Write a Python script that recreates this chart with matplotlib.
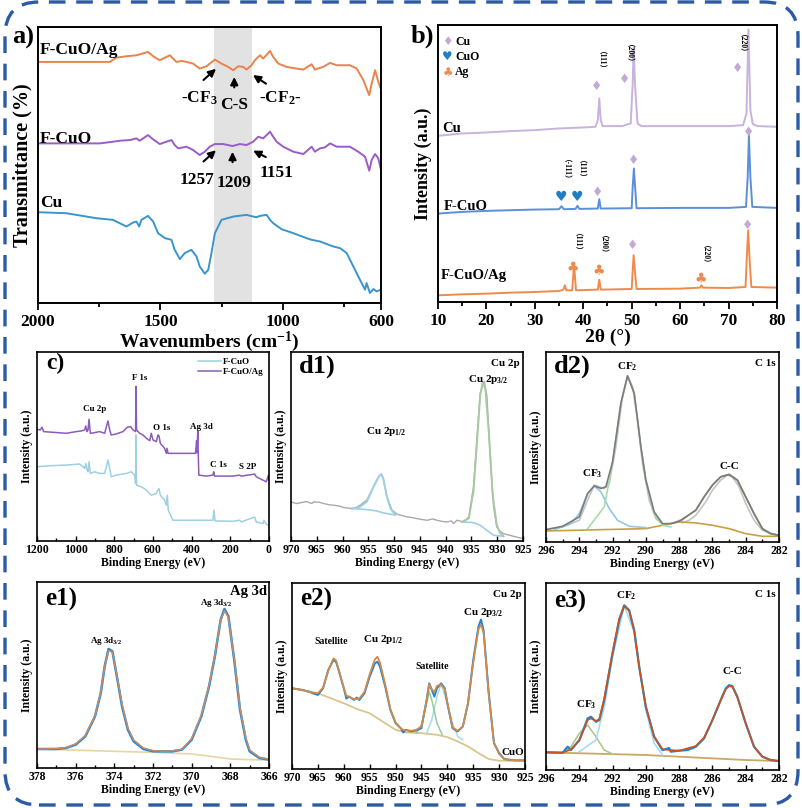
import matplotlib
matplotlib.use('Agg')
import matplotlib.pyplot as plt
from matplotlib.patches import FancyBboxPatch
from matplotlib.transforms import IdentityTransform
from matplotlib.ticker import MultipleLocator, FixedLocator

plt.rcParams['font.family'] = ['Liberation Serif', 'DejaVu Sans']
plt.rcParams['font.weight'] = 'bold'
plt.rcParams['axes.labelweight'] = 'bold'
plt.rcParams['mathtext.fontset'] = 'custom'
plt.rcParams['mathtext.rm'] = 'Liberation Serif:bold'
plt.rcParams['mathtext.it'] = 'Liberation Serif:bold'
plt.rcParams['mathtext.bf'] = 'Liberation Serif:bold'

# ================= DATA =================
# (a) FTIR
ftir_cu_wn = [2000,1884,1762,1694,1639,1612,1598,1587,1578,1551,1530,1510,1482,1455,1442,1421,1401,1374,1353,1340,
              1319,1305,1292,1278,1251,1203,1149,1122,1108,1094,1067,1053,1040,1006,958,904,883,849,795,767,
              740,713,686,665,659,645,631,618,600]
ftir_cu_t = [273,270,255,250,230,242,245,230,250,262,245,210,195,190,160,132,150,160,140,110,
             88,100,150,210,250,260,265,260,258,262,265,250,240,222,210,195,190,185,170,165,
             150,110,70,40,60,30,42,35,40]
ftir_fcuo_wn = [2000,1748,1694,1666,1625,1598,1585,1551,1530,1503,1476,1455,1442,1428,1394,1367,1340,1319,1299,1278,
                1244,1206,1176,1149,1122,1101,1081,1053,1040,1026,999,958,917,883,870,849,829,808,781,727,
                693,665,648,638,624,611,600]
ftir_fcuo_t = [480,480,485,488,490,495,488,505,492,478,485,490,475,465,470,460,445,455,470,478,
               478,472,478,475,485,500,495,515,500,485,470,455,448,470,455,465,468,480,470,470,
               455,440,398,430,448,435,400]
ftir_ag_wn = [2000,1707,1680,1639,1598,1551,1530,1503,1462,1435,1414,1394,1367,1340,1312,1278,1251,1224,1203,1183,
              1162,1149,1128,1115,1094,1081,1053,1040,1019,985,945,917,883,870,836,808,781,727,699,672,
              648,638,624,611,600]
ftir_ag_t = [725,725,738,742,745,755,742,730,745,725,728,725,720,705,712,732,720,710,700,712,
             710,702,715,730,745,735,758,740,720,710,705,702,718,702,710,722,715,715,705,670,
             625,660,700,665,642]
ftir_band = [1282, 1128]
ftir_names = ['F-CuO/Ag', 'F-CuO', 'Cu']
ftir_top_labels = ['-CF$_3$', 'C-S', '-CF$_2$-']
ftir_bot_labels = ['1257', '1209', '1151']

# (b) XRD
xrd_cu_x = [10,15,20,25,30,35,40,42.5,43.0,43.3,43.6,44,48,49.8,50.2,50.4,50.7,51.2,52,60,70,73,73.7,74.1,74.5,75,76,80]
xrd_cu_y = [498,505,508,512,515,520,523,525,545,610,545,527,527,535,655,760,645,535,527,527,527,530,565,817,575,533,527,525]
xrd_fcuo_x = [10,15,20,25,30,35,35.5,36,38.4,38.8,39.2,43,43.3,43.6,50,50.2,50.45,50.7,51,60,70,73.6,73.95,74.2,74.5,74.9,80]
xrd_fcuo_y = [265,270,273,275,277,278,287,278,279,288,279,280,308,280,281,345,400,345,281,282,282,285,375,500,375,285,282]
xrd_ag_x = [10,15,20,25,30,35,35.9,36.2,36.5,37.7,38.1,38.5,43,43.3,43.6,50,50.2,50.4,50.7,51,60,64.1,64.4,64.7,70,73.5,73.8,74.05,74.35,74.7,80]
xrd_ag_y = [20,23,25,28,30,33,37,50,35,35,110,35,37,67,37,39,95,140,85,39,40,43,50,43,42,45,145,215,125,45,43]
xrd_cu_mark_x = [42.7, 48.5, 71.9, 74.1, 50.4, 43.0, 73.9, 50.2]
xrd_cu_mark_y = [647, 667, 700, 508, 425, 327, 230, 168]
xrd_cuo_mark_x = [35.5, 38.6]
xrd_cuo_mark_y = [315, 315]
xrd_ag_mark_x = [37.9, 43.2, 64.3]
xrd_ag_mark_y = [100, 93, 67]
xrd_hkl_text = ['（111）', '（200）', '（220）', '（-111）', '（111）', '（111）', '（200）', '（220）']
xrd_hkl_x = [42.7, 48.5, 71.9, 35.5, 38.6, 37.9, 43.2, 64.3]
xrd_hkl_y = [712, 732, 762, 385, 385, 167, 162, 132]
xrd_names = ['Cu', 'F-CuO', 'F-CuO/Ag']
xrd_legend = ['Cu', 'CuO', 'Ag']

# (c) XPS survey
c_ag_be = [1200,1183,1174,1166,1048,997,971,953,948,941,936,931,924,902,876,850,833,824,816,790,
           755,733,716,703,690,688,685,669,652,634,617,609,600,583,574,569,562,540,531,528,
           522,497,428,380,374.5,372,368.5,366,363,324,290,286,281,186,152,143,74,66,14,3,0]
c_ag_i = [334,332,340,327,322,327,329,332,344,327,332,364,322,324,327,322,359,332,317,320,
          327,340,342,332,327,462,332,322,317,307,300,322,302,297,317,314,292,277,262,277,
          262,262,262,262,300,264,329,262,197,194,197,207,194,194,197,194,200,192,177,197,182]
c_cuo_be = [1200,1134,1048,979,962,953,948,941,936,931,924,902,876,850,833,824,816,790,738,712,
            695,690,688,685,660,634,609,583,569,562,540,531,526,521,497,428,359,290,285,279,
            186,152,143,74,66,31,26,14,0]
c_cuo_i = [222,225,227,230,222,217,232,212,207,237,202,207,202,202,242,217,192,197,202,207,
           197,172,317,167,162,152,137,142,157,137,122,107,137,92,62,62,62,62,92,60,
           59,62,57,72,57,52,62,50,47]
c_peak_names = ['Cu 2p', 'F 1s', 'O 1s', 'Ag 3d', 'C 1s', 'S 2P']

# (d1) Cu 2p of F-CuO
d1_raw_be = [970,969,968.2,967,966,965.6,964.5,963.7,962.5,961.7,960.5,959.8,958.2,957.5,956.6,955.3,954,953,952.5,952.1,
             951.4,950.4,949.4,947.5,946.5,945.6,944.5,943.6,942.5,941.7,940.5,939.7,938.9,938.5,937.8,936.5,935.5,934.6,933.9,933.3,
             932.5,932,931.4,930.7,930.1,929.5,928.8,927.8,926.8,925]
d1_raw_i = [117,112,114,118,112,117,116,112,108,107,104,100,97,99,107,122,162,192,200,187,
            132,92,80,72,70,67,64,62,66,62,58,57,60,52,62,57,72,162,312,442,
            477,432,262,102,42,30,22,18,14,7]
d1_fit_be = [958.2,956.6,955.3,954,953,952.5,952.1,951.4,950.7,949.8]
d1_fit_i = [97,102,117,162,192,200,187,132,97,78]
d1_bg1_be = [958.2,955.3,953.4,952.1,950.7,949.8]
d1_bg1_i = [97,94,90,84,80,78]
d1_bg2_be = [936.8,934.6,933.3,932,930.7,928.8]
d1_bg2_i = [57,55,47,32,17,14]
d1_env_be = [936.8,935.5,934.6,933.9,933.3,932.8,932.3,931.6,930.9,930.1,929.5,928.8]
d1_env_i = [57,68,150,300,435,477,455,320,140,50,25,14]

# (d2) C 1s of F-CuO
d2_raw_be = [296,295,294,293.5,293.1,292.8,292.5,292.2,291.8,291.4,291.1,290.8,290.5,290.2,289.8,289.4,289,288.4,288,287.8,
             287.4,287,286.4,286,285.5,285.1,284.8,284.4,284,283.5,283,282.5,282]
d2_raw_i = [37,45,65,125,170,165,160,175,285,435,495,465,365,235,125,70,53,55,65,57,
            65,80,120,155,185,200,195,165,115,65,35,25,20]
d2_env_be = [296,295,294,293.5,293.1,292.7,292.4,292,291.5,291.1,290.7,290.3,290,289.5,289,288.5,288,287,286.5,286,
             285.5,285,284.5,284,283.5,283,282.5,282]
d2_env_i = [37,47,75,145,168,160,165,240,415,497,445,285,185,90,55,55,62,95,135,170,
            195,202,185,135,85,40,25,20]
d2_cf3_be = [295.5,294.5,294,293.5,293.1,292.7,292.2,291.7,291,290]
d2_cf3_i = [37,55,85,145,167,150,100,65,47,43]
d2_cf2_be = [293.5,292.5,292,291.5,291.1,290.7,290.3,290,289.5,289,288.5]
d2_cf2_i = [40,105,235,415,497,445,285,185,85,50,45]
d2_cc_be = [288,287,286.5,286,285.5,285,284.5,284,283.5,283,282.5,282]
d2_cc_i = [60,95,135,170,195,202,185,135,85,40,25,20]
d2_bg_be = [296,290,288,287,286,285,284,283,282]
d2_bg_i = [33,40,60,57,50,40,25,17,17]

# (e1) Ag 3d of F-CuO/Ag
e1_be = [378,377,376.5,376,375.5,375,374.7,374.5,374.3,374.1,373.9,373.6,373.3,373,372.5,372,371.5,371,370.5,370,
         369.5,369.1,368.8,368.5,368.3,368.1,367.8,367.5,367.2,367,366.5,366]
e1_raw = [57,57,60,70,95,155,225,305,357,350,285,185,115,80,57,50,50,50,55,85,
          155,245,335,445,477,455,325,175,85,50,30,25]
e1_fit = [57,58,61,72,97,157,228,305,352,348,287,190,120,84,60,52,51,51,56,88,
          158,248,337,443,472,452,328,180,90,54,32,26]
e1_bg_be = [378,374,372,370,369,368,367,366]
e1_bg_i = [57,50,47,42,35,27,25,24]

# (e2) Cu 2p of F-CuO/Ag
e2_be = [970,968,966.5,966,965,964,963,962,961.5,961,960,959.5,959,958,957.5,957,956,955,954,953.5,
         953,952,951,950,949,948.5,948,947,946,945,944,943.5,943,942.5,942,941.2,940.5,940,939,938,
         937,936,935,934,933.5,933,932,931,930,929,928,927,925]
e2_raw = [243,238,232,228,223,243,298,328,323,298,243,212,218,208,215,208,228,278,318,323,
          308,248,178,138,123,110,118,113,116,123,208,258,238,218,243,258,243,198,123,113,
          128,198,328,428,450,418,228,78,48,30,28,26,26]
e2_fit = [243,238,231,230,228,245,295,333,327,300,245,220,218,210,211,212,232,285,330,338,
          320,255,180,140,122,118,117,115,118,128,205,255,240,232,250,255,240,200,125,115,
          128,200,320,420,435,410,225,80,45,30,27,26,26]
e2_bg_be = [970,965,960,957,955,952,950,948,945,942,940,938,936,934,932,930,925]
e2_bg_i = [243,228,198,178,168,138,118,110,108,103,96,83,68,48,30,25,25]
e2_sat1_be = [946,945,944,943.5,943,942,941]
e2_sat1_i = [108,133,198,233,208,138,103]
e2_sat2_be = [944,943,942,941.2,940.2,939,938,937]
e2_sat2_i = [108,148,218,256,208,138,98,88]

# (e3) C 1s of F-CuO/Ag
e3_raw_be = [296,295,294.7,294.5,294,293.8,293.5,293.3,293,292.8,292.5,292,291.6,291.3,291,290.7,290.4,290,289.5,289,
             288.6,288.5,288,287.5,287,286.5,286,285.5,285.2,285,284.8,284.5,284,283.5,283,282.5,282]
e3_raw_i = [53,52,70,60,90,115,155,160,145,150,210,350,450,495,480,420,310,190,100,60,
            66,55,58,60,70,95,150,210,245,255,252,220,140,70,40,30,27]
e3_fit_be = [296,295,294.5,294,293.5,293.3,293,292.8,292.5,292,291.6,291.3,291,290.7,290.4,290,289.5,289,288,287,
             286.5,286,285.5,285.2,285,284.8,284.5,284,283.5,283,282.5,282]
e3_fit_i = [53,52,62,88,150,155,148,152,215,355,455,493,478,418,310,190,100,62,58,72,
            98,150,210,243,252,250,218,140,70,40,30,27]
e3_cf3_be = [295,294.5,294,293.5,293,292.5,292]
e3_cf3_i = [52,70,110,135,100,60,48]
e3_cf2_be = [294,293,292.5,292,291.3,290.7,290,289.5,289]
e3_cf2_i = [55,90,190,340,493,415,180,80,45]
e3_bg_be = [296,290,288,286,284,282]
e3_bg_i = [53,45,40,35,30,27]

# ================= FIGURE =================
W, H = 803, 808
fig = plt.figure(figsize=(W / 100, H / 100), dpi=100)


def add_ax(l, t, r, b):
    return fig.add_axes([l / W, 1 - b / H, (r - l) / W, (b - t) / H])


def ftxt(x, y, s, **kw):
    fig.text(x / W, 1 - y / H, s, **kw)


# ---------- (a) FTIR ----------
ax = add_ax(38, 27, 381, 303)
ax.axvspan(ftir_band[0], ftir_band[1], color='#e2e2e2', zorder=0, lw=0)
ax.plot(ftir_ag_wn, ftir_ag_t, color='#e8834c', lw=1.4)
ax.plot(ftir_fcuo_wn, ftir_fcuo_t, color='#9a5cc6', lw=1.4)
ax.plot(ftir_cu_wn, ftir_cu_t, color='#3a95cc', lw=1.4)
ax.set_xlim(2000, 600)
ax.set_ylim(0, 830)
ax.xaxis.set_major_locator(FixedLocator([2000, 1500, 1000, 600]))
ax.xaxis.set_minor_locator(FixedLocator([1750, 1250, 750]))
ax.set_yticks([])
ax.tick_params(axis='x', which='both', direction='out', width=1.3, labelsize=12.5, pad=3)
ax.tick_params(axis='x', which='major', length=5)
ax.tick_params(axis='x', which='minor', length=3)
for s in ax.spines.values():
    s.set_linewidth(1.4)
ax.set_xlabel('Wavenumbers (cm$^{-1}$)', fontsize=14, labelpad=0)
ax.set_ylabel('Transmittance (%)', fontsize=14.5, labelpad=4)
ax.text(1993, 750, ftir_names[0], fontsize=12.5, va='baseline')
ax.text(1993, 482, ftir_names[1], fontsize=12.5, va='baseline')
ax.text(1993, 290, ftir_names[2], fontsize=12.5, va='baseline')
ap = dict(arrowstyle='-|>', color='black', lw=1.5, mutation_scale=11)
# top arrows
ax.annotate('', xy=(1265, 710), xytext=(1333, 665), arrowprops=ap)
ax.annotate('', xy=(1199, 688), xytext=(1199, 640), arrowprops=ap)
ax.annotate('', xy=(1132, 690), xytext=(1060, 655), arrowprops=ap)
ax.text(1340, 615, ftir_top_labels[0], fontsize=12.5, ha='center', va='center')
ax.text(1199, 595, ftir_top_labels[1], fontsize=12.5, ha='center', va='center')
ax.text(1010, 615, ftir_top_labels[2], fontsize=12.5, ha='center', va='center')
# bottom arrows
ax.annotate('', xy=(1265, 465), xytext=(1333, 420), arrowprops=ap)
ax.annotate('', xy=(1206, 463), xytext=(1206, 415), arrowprops=ap)
ax.annotate('', xy=(1132, 462), xytext=(1060, 435), arrowprops=ap)
ax.text(1353, 370, ftir_bot_labels[0], fontsize=12.5, ha='center', va='center')
ax.text(1199, 362, ftir_bot_labels[1], fontsize=12.5, ha='center', va='center')
ax.text(1026, 390, ftir_bot_labels[2], fontsize=12.5, ha='center', va='center')
ftxt(12, 26, 'a)', fontsize=19, va='top', ha='left')

# ---------- (b) XRD ----------
ax = add_ax(438, 25, 777, 302)
ax.plot(xrd_cu_x, xrd_cu_y, color='#c7b3dc', lw=1.4)
ax.plot(xrd_fcuo_x, xrd_fcuo_y, color='#5b8fd8', lw=1.4)
ax.plot(xrd_ag_x, xrd_ag_y, color='#f08a4b', lw=1.4)
ax.set_xlim(10, 80)
ax.set_ylim(0, 830)
ax.xaxis.set_major_locator(MultipleLocator(10))
ax.xaxis.set_minor_locator(MultipleLocator(5))
ax.set_yticks([])
ax.tick_params(axis='x', which='both', direction='out', width=1.3, labelsize=12.5, pad=3)
ax.tick_params(axis='x', which='major', length=5)
ax.tick_params(axis='x', which='minor', length=3)
for s in ax.spines.values():
    s.set_linewidth(1.4)
ax.set_xlabel('2θ (°)', fontsize=14, labelpad=0)
ax.set_ylabel('Intensity (a.u.)', fontsize=13, labelpad=4)
sym = dict(family='DejaVu Sans', ha='center', va='center')
for x, y in zip(xrd_cu_mark_x, xrd_cu_mark_y):
    ax.text(x, y, '♦', color='#c3a9d8', fontsize=9, **sym)
for x, y in zip(xrd_cuo_mark_x, xrd_cuo_mark_y):
    ax.text(x, y, '♥', color='#1f7fc4', fontsize=10, **sym)
for x, y in zip(xrd_ag_mark_x, xrd_ag_mark_y):
    ax.text(x, y, '♣', color='#ee8a50', fontsize=10, **sym)
for t, x, y in zip(xrd_hkl_text, xrd_hkl_x, xrd_hkl_y):
    ax.text(x, y, t, rotation=-90, fontsize=5.5, ha='center', va='center',
            family=['Liberation Serif', 'Noto Sans CJK SC'])
ax.text(10.8, 510, xrd_names[0], fontsize=10.5, va='baseline')
ax.text(11.2, 277, xrd_names[1], fontsize=10.5, va='baseline')
ax.text(10.5, 70, xrd_names[2], fontsize=10.5, va='baseline')
leg_cols = ['#c3a9d8', '#1f7fc4', '#ee8a50']
leg_syms = ['♦', '♥', '♣']
for k, (lab, col, sm) in enumerate(zip(xrd_legend, leg_cols, leg_syms)):
    yy = 0.94 - k * 0.055
    ax.text(0.028, yy, sm, color=col, fontsize=8.5, transform=ax.transAxes, **sym)
    ax.text(0.05, yy, lab, fontsize=8.5, va='center', transform=ax.transAxes)
ftxt(411, 25, 'b)', fontsize=19, va='top', ha='left')


# ---------- XPS helper ----------
def xps_ax(box, xlim, ylim, major, minor):
    a = add_ax(*box)
    a.set_xlim(*xlim)
    a.set_ylim(*ylim)
    a.xaxis.set_major_locator(MultipleLocator(major))
    if minor:
        a.xaxis.set_minor_locator(MultipleLocator(minor))
    a.set_yticks([])
    a.tick_params(axis='x', which='both', direction='in', width=1.0, labelsize=8.5, pad=2)
    a.tick_params(axis='x', which='major', length=3.5)
    a.tick_params(axis='x', which='minor', length=2)
    for s in a.spines.values():
        s.set_linewidth(1.2)
    a.set_xlabel('Binding Energy (eV)', fontsize=8.5, labelpad=1)
    a.set_ylabel('Intensity (a.u.)', fontsize=8.5, labelpad=3)
    return a


# ---------- (c) survey ----------
ax = xps_ax((37, 352, 269, 541), (1200, 0), (0, 565), 200, 100)
ax.plot(c_cuo_be, c_cuo_i, color='#9fd0e2', lw=1.1, label='F-CuO')
ax.plot(c_ag_be, c_ag_i, color='#8b5cba', lw=1.1, label='F-CuO/Ag')
ax.legend(loc='upper right', fontsize=6.5, frameon=False, handlelength=2.6,
          handletextpad=0.2, borderaxespad=0.2, labelspacing=0.25)
c_lab_x = [902, 669, 557, 350, 259, 109]
c_lab_y = [394, 487, 337, 342, 227, 222]
for t, x, y in zip(c_peak_names, c_lab_x, c_lab_y):
    ax.text(x, y, t, fontsize=6.5, ha='center', va='center')
ax.text(0.04, 0.995, 'c)', fontsize=17, va='top', transform=ax.transAxes)

# ---------- (d1) ----------
ax = xps_ax((291, 352, 523, 541), (970, 925), (0, 565), 5, None)
ax.plot(d1_raw_be, d1_raw_i, color='#a9a9a9', lw=1.0)
ax.plot(d1_bg1_be, d1_bg1_i, color='#9dcfe8', lw=1.2)
ax.plot(d1_fit_be, d1_fit_i, color='#9dcfe8', lw=1.4)
ax.plot(d1_bg2_be, d1_bg2_i, color='#9dcfe8', lw=1.2)
ax.plot(d1_env_be, d1_env_i, color='#a9c8a4', lw=1.4)
ax.text(0.985, 0.965, 'Cu 2p', fontsize=8, ha='right', va='top', transform=ax.transAxes)
ax.text(931.7, 484, 'Cu 2p$_{3/2}$', fontsize=8, ha='center', va='center')
ax.text(951.5, 327, 'Cu 2p$_{1/2}$', fontsize=8, ha='center', va='center')
ax.text(0.035, 0.985, 'd1)', fontsize=19, va='top', transform=ax.transAxes)

# ---------- (d2) ----------
ax = xps_ax((546, 352, 779, 542), (296, 282), (0, 568), 2, 1)
ax.plot(d2_raw_be, d2_raw_i, color='#c4c4c4', lw=1.2)
ax.plot(d2_bg_be, d2_bg_i, color='#c9a040', lw=1.2)
ax.plot(d2_cf3_be, d2_cf3_i, color='#92c8e6', lw=1.2)
ax.plot(d2_cf2_be, d2_cf2_i, color='#a6dca8', lw=1.2)
ax.plot(d2_cc_be, d2_cc_i, color='#a0a070', lw=1.2)
ax.plot(d2_env_be, d2_env_i, color='#7c7c7c', lw=1.2)
ax.text(0.985, 0.965, 'C 1s', fontsize=8, ha='right', va='top', transform=ax.transAxes)
ax.text(291.1, 525, 'CF$_2$', fontsize=8, ha='center', va='center')
ax.text(293.2, 203, 'CF$_3$', fontsize=8, ha='center', va='center')
ax.text(285.0, 227, 'C-C', fontsize=8, ha='center', va='center')
ax.text(0.035, 0.985, 'd2)', fontsize=19, va='top', transform=ax.transAxes)

# ---------- (e1) ----------
ax = xps_ax((37, 582, 269, 768), (378, 366), (0, 558), 2, 1)
ax.plot(e1_bg_be, e1_bg_i, color='#e6d6a0', lw=1.2)
ax.plot(e1_be, e1_raw, color='#1c8ad8', lw=1.8)
ax.plot(e1_be, e1_fit, color='#c98a66', lw=1.1)
ax.text(0.99, 0.985, 'Ag 3d', fontsize=10.5, ha='right', va='top', transform=ax.transAxes)
ax.text(374.4, 382, 'Ag 3d$_{3/2}$', fontsize=6.5, ha='center', va='center')
ax.text(368.7, 495, 'Ag 3d$_{3/2}$', fontsize=6.5, ha='center', va='center')
ax.text(0.035, 0.97, 'e1)', fontsize=18, va='top', transform=ax.transAxes)

# ---------- (e2) ----------
ax = xps_ax((292, 583, 525, 769), (970, 925), (0, 560), 5, None)
ax.plot(e2_bg_be, e2_bg_i, color='#d7c68e', lw=1.3)
ax.plot(e2_sat2_be, e2_sat2_i, color='#a9dbe6', lw=1.1)
ax.plot(e2_sat1_be, e2_sat1_i, color='#98cc98', lw=1.1)
ax.plot(e2_be, e2_raw, color='#1f82d2', lw=1.4)
ax.plot(e2_be, e2_fit, color='#d08a4a', lw=1.3)
ax.text(0.985, 0.965, 'Cu 2p', fontsize=8, ha='right', va='top', transform=ax.transAxes)
ax.text(933.1, 470, 'Cu 2p$_{3/2}$', fontsize=8, ha='center', va='center')
ax.text(952.4, 390, 'Cu 2p$_{1/2}$', fontsize=8, ha='center', va='center')
ax.text(962.4, 385, 'Satellite', fontsize=7, ha='center', va='center')
ax.text(943.0, 308, 'Satellite', fontsize=7, ha='center', va='center')
ax.text(927.4, 51, 'CuO', fontsize=8, ha='center', va='center')
ax.text(0.035, 0.975, 'e2)', fontsize=18, va='top', transform=ax.transAxes)

# ---------- (e3) ----------
ax = xps_ax((546, 583, 779, 770), (296, 282), (0, 562), 2, 1)
ax.plot(e3_bg_be, e3_bg_i, color='#c8a862', lw=1.3)
ax.plot(e3_cf3_be, e3_cf3_i, color='#b2c68e', lw=1.2)
ax.plot(e3_cf2_be, e3_cf2_i, color='#a8dcea', lw=1.2)
ax.plot(e3_raw_be, e3_raw_i, color='#1f86d6', lw=1.6)
ax.plot(e3_fit_be, e3_fit_i, color='#c8531e', lw=1.2)
ax.text(0.985, 0.965, 'C 1s', fontsize=8, ha='right', va='top', transform=ax.transAxes)
ax.text(291.2, 525, 'CF$_2$', fontsize=8, ha='center', va='center')
ax.text(293.56, 195, 'CF$_3$', fontsize=8, ha='center', va='center')
ax.text(284.8, 295, 'C-C', fontsize=8, ha='center', va='center')
ax.text(0.035, 0.965, 'e3)', fontsize=18, va='top', transform=ax.transAxes)

# ---------- dashed rounded frame ----------
frame = FancyBboxPatch((5, 3), 793, 803, boxstyle='round,pad=0,rounding_size=34',
                       transform=IdentityTransform(), fill=False, edgecolor='#2c5ba6',
                       lw=2.4, linestyle=(0, (5, 3.2)))
fig.add_artist(frame)
frame.set_transform(IdentityTransform())

fig.savefig('out.png', dpi=100)
